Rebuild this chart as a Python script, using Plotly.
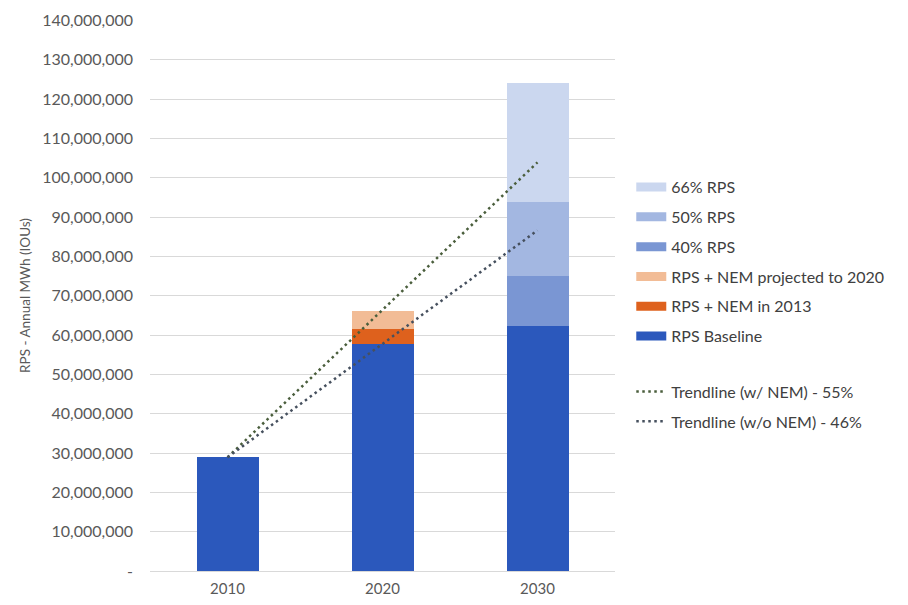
import plotly.graph_objects as go

years = ["2010", "2020", "2030"]
rps_baseline = [28.9e6, 57.8e6, 62.2e6]
nem_2013 = [0, 3.7e6, 0]
nem_proj_2020 = [0, 4.5e6, 0]
rps_40 = [0, 0, 12.8e6]
rps_50 = [0, 0, 18.9e6]
rps_66 = [0, 0, 30.1e6]

trend_x = ["2010", "2030"]
trend_with_nem = [28.9e6, 103.9e6]
trend_without_nem = [28.9e6, 86.6e6]

tick_vals = [i * 10_000_000 for i in range(15)]
tick_text = ["-"] + [f"{v:,}" for v in tick_vals[1:]]

bar_series = [
    ("RPS Baseline", rps_baseline, "#2B58BC"),
    ("RPS + NEM in 2013", nem_2013, "#DE611D"),
    ("RPS + NEM projected to 2020", nem_proj_2020, "#F2BC96"),
    ("40% RPS", rps_40, "#7A96D3"),
    ("50% RPS", rps_50, "#A3B7E1"),
    ("66% RPS", rps_66, "#CBD7EF"),
]

FONT = "Lato"
fig = go.Figure()

n = len(bar_series)
for i, (name, vals, color) in enumerate(bar_series):
    fig.add_trace(go.Bar(
        x=years, y=vals, name=name, marker_color=color,
        marker_line_width=0, width=0.4, showlegend=False,
        legendgroup=name,
    ))
    # legend proxy drawn as a wide swatch
    fig.add_trace(go.Scatter(
        x=[None], y=[None], mode="lines", name=name,
        line=dict(color=color, width=9), legendgroup=name,
        legendrank=n - i, legend="legend",
    ))

fig.add_trace(go.Scatter(
    x=trend_x, y=trend_with_nem, mode="lines",
    name="Trendline (w/ NEM) - 55%",
    line=dict(color="#4A5E3C", width=2.5, dash="2.5px,3.5px"),
    legend="legend2", legendgroup="tw", legendrank=1,
))
fig.add_trace(go.Scatter(
    x=trend_x, y=trend_without_nem, mode="lines",
    name="Trendline (w/o NEM) - 46%",
    line=dict(color="#46505E", width=2.5, dash="2.5px,3.5px"),
    legend="legend2", legendgroup="two", legendrank=2,
))

fig.update_layout(
    width=908, height=605,
    margin=dict(l=142, r=301, t=12, b=42, autoexpand=False),
    paper_bgcolor="white", plot_bgcolor="white",
    barmode="stack",
    font=dict(family=FONT, size=15, color="#595959"),
    xaxis=dict(
        type="category", categoryorder="array", categoryarray=years,
        showgrid=False, showline=True, linecolor="#D9D9D9", linewidth=1,
        ticks="", ticklabelstandoff=4, tickfont=dict(size=15, color="#595959"),
        automargin=False,
    ),
    yaxis=dict(
        range=[0, 140.1e6], tickvals=tick_vals, ticktext=tick_text,
        showgrid=True, gridcolor="#D9D9D9", gridwidth=1,
        zeroline=False, showline=False, ticks="", ticklabelstandoff=16,
        ticklabeloverflow="allow", automargin=False,
        tickfont=dict(size=16, color="#595959"),
        title=dict(text="RPS - Annual MWh (IOUs)", font=dict(size=13.5, color="#595959"), standoff=8),
    ),
    legend=dict(
        x=1.035, xanchor="left", y=0.7275, yanchor="top",
        traceorder="grouped", tracegroupgap=6,
        font=dict(family=FONT, size=16, color="#404040"),
        bgcolor="rgba(0,0,0,0)",
    ),
    legend2=dict(
        x=1.035, xanchor="left", y=0.3565, yanchor="top",
        traceorder="grouped", tracegroupgap=6,
        font=dict(family=FONT, size=16, color="#404040"),
        bgcolor="rgba(0,0,0,0)",
    ),
)

fig.write_html("out.html")
